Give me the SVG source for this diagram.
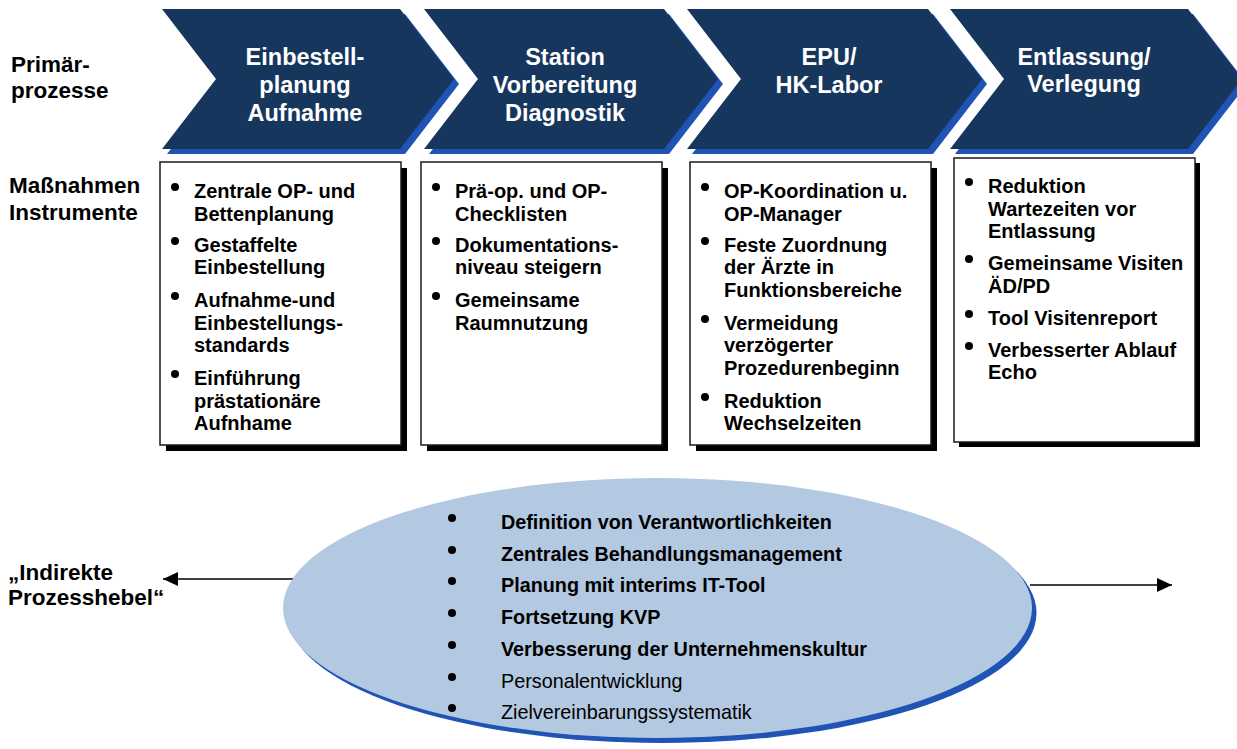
<svg xmlns="http://www.w3.org/2000/svg" width="1237" height="749" viewBox="0 0 1237 749">
<defs>
<style>
text{font-family:"Liberation Sans",Arial,Helvetica,sans-serif;}
.lbl{font-size:22.5px;font-weight:bold;fill:#000;}
.chev{fill:#17365D;}
.chevsh{fill:#1F54B4;}
.ct{font-size:23.5px;font-weight:bold;fill:#fff;text-anchor:middle;}
.box{fill:#fff;stroke:#1a1a1a;stroke-width:1.5;}
.boxsh{fill:#000;}
.bt{font-size:20px;font-weight:bold;fill:#000;}
.et{font-size:19.8px;fill:#000;}
.b{font-weight:bold;}
.conn{stroke:#000;stroke-width:1.6;fill:none;}
</style>
<marker id="ah" markerUnits="userSpaceOnUse" markerWidth="16" markerHeight="15" refX="15" refY="7" orient="auto">
<path d="M0,0 L15,7 L0,14 Z" fill="#000"/>
</marker>
</defs>
<rect x="0" y="0" width="1237" height="749" fill="#fff"/>

<g id="labels">
<text class="lbl" x="11" y="72">Primär-</text>
<text class="lbl" x="11" y="98">prozesse</text>
<text class="lbl" x="9" y="193">Maßnahmen</text>
<text class="lbl" x="9" y="220">Instrumente</text>
<text class="lbl" x="8" y="580">„Indirekte</text>
<text class="lbl" x="8" y="605">Prozesshebel“</text>
</g>

<g id="chevron1">
<path class="chevsh" d="M167,14 L405,14 L459,84 L405,154 L167,154 L221,84 Z"/>
<path class="chev" d="M162,9 L400,9 L454,79 L400,149 L162,149 L216,79 Z"/>
<text class="ct" x="305" y="65">Einbestell-</text>
<text class="ct" x="305" y="93">planung</text>
<text class="ct" x="305" y="121">Aufnahme</text>
</g>
<g id="chevron2">
<path class="chevsh" d="M429,14 L669,14 L723,84 L669,154 L429,154 L483,84 Z"/>
<path class="chev" d="M424,9 L664,9 L718,79 L664,149 L424,149 L478,79 Z"/>
<text class="ct" x="565" y="65">Station</text>
<text class="ct" x="565" y="93">Vorbereitung</text>
<text class="ct" x="565" y="121">Diagnostik</text>
</g>
<g id="chevron3">
<path class="chevsh" d="M692,14 L933,14 L987,84 L933,154 L692,154 L746,84 Z"/>
<path class="chev" d="M687,9 L928,9 L982,79 L928,149 L687,149 L741,79 Z"/>
<text class="ct" x="829" y="65">EPU/</text>
<text class="ct" x="829" y="93">HK-Labor</text>
</g>
<g id="chevron4">
<path class="chevsh" d="M955,14 L1193,14 L1247,84 L1193,154 L955,154 L1009,84 Z"/>
<path class="chev" d="M950,9 L1188,9 L1242,79 L1188,149 L950,149 L1004,79 Z"/>
<text class="ct" x="1084" y="65">Entlassung/</text>
<text class="ct" x="1084" y="92">Verlegung</text>
</g>

<g id="box1">
<rect class="boxsh" x="166" y="168" width="241" height="283"/>
<rect class="box" x="160" y="162" width="241" height="283"/>
<circle cx="175" cy="187" r="4"/><circle cx="175" cy="241" r="4"/><circle cx="175" cy="296" r="4"/><circle cx="175" cy="374" r="4"/>
<text class="bt"><tspan x="194" y="198">Zentrale OP- und</tspan><tspan x="194" y="221">Bettenplanung</tspan><tspan x="194" y="252">Gestaffelte</tspan><tspan x="194" y="274">Einbestellung</tspan><tspan x="194" y="307">Aufnahme-und</tspan><tspan x="194" y="330">Einbestellungs-</tspan><tspan x="194" y="352">standards</tspan><tspan x="194" y="385">Einführung</tspan><tspan x="194" y="408">prästationäre</tspan><tspan x="194" y="430">Aufnhame</tspan></text>
</g>
<g id="box2">
<rect class="boxsh" x="427" y="168" width="241" height="283"/>
<rect class="box" x="421" y="162" width="241" height="283"/>
<circle cx="436" cy="187" r="4"/><circle cx="436" cy="241" r="4"/><circle cx="436" cy="296" r="4"/>
<text class="bt"><tspan x="455" y="198">Prä-op. und OP-</tspan><tspan x="455" y="221">Checklisten</tspan><tspan x="455" y="252">Dokumentations-</tspan><tspan x="455" y="274">niveau steigern</tspan><tspan x="455" y="307">Gemeinsame</tspan><tspan x="455" y="330">Raumnutzung</tspan></text>
</g>
<g id="box3">
<rect class="boxsh" x="696" y="168" width="241" height="283"/>
<rect class="box" x="690" y="162" width="241" height="283"/>
<circle cx="705" cy="187" r="4"/><circle cx="705" cy="241" r="4"/><circle cx="705" cy="319" r="4"/><circle cx="705" cy="397" r="4"/>
<text class="bt"><tspan x="724" y="198">OP-Koordination u.</tspan><tspan x="724" y="221">OP-Manager</tspan><tspan x="724" y="252">Feste Zuordnung</tspan><tspan x="724" y="274">der Ärzte in</tspan><tspan x="724" y="297">Funktionsbereiche</tspan><tspan x="724" y="330">Vermeidung</tspan><tspan x="724" y="352">verzögerter</tspan><tspan x="724" y="375">Prozedurenbeginn</tspan><tspan x="724" y="408">Reduktion</tspan><tspan x="724" y="430">Wechselzeiten</tspan></text>
</g>
<g id="box4">
<rect class="boxsh" x="959" y="163" width="241" height="284"/>
<rect class="box" x="954" y="158" width="241" height="284"/>
<circle cx="969" cy="182" r="4"/><circle cx="969" cy="259" r="4"/><circle cx="969" cy="314" r="4"/><circle cx="969" cy="346" r="4"/>
<text class="bt"><tspan x="988" y="193">Reduktion</tspan><tspan x="988" y="216">Wartezeiten vor</tspan><tspan x="988" y="238">Entlassung</tspan><tspan x="988" y="270">Gemeinsame Visiten</tspan><tspan x="988" y="293">ÄD/PD</tspan><tspan x="988" y="325">Tool Visitenreport</tspan><tspan x="988" y="357">Verbesserter Ablauf</tspan><tspan x="988" y="379">Echo</tspan></text>
</g>

<g id="connectors">
<line class="conn" x1="294" y1="579" x2="163" y2="579" marker-end="url(#ah)"/>
<line class="conn" x1="1030" y1="585" x2="1172" y2="585" marker-end="url(#ah)"/>
</g>

<g id="ellipse">
<ellipse cx="662" cy="613" rx="374.5" ry="130" fill="#1F54B4"/>
<ellipse cx="657.5" cy="608" rx="374.5" ry="130" fill="#B3C8E1"/>
<circle cx="452" cy="518" r="4"/><circle cx="452" cy="550" r="4"/><circle cx="452" cy="581" r="4"/><circle cx="452" cy="613" r="4"/><circle cx="452" cy="645" r="4"/><circle cx="452" cy="677" r="4"/><circle cx="452" cy="708" r="4"/>
<text class="et b" x="501" y="529">Definition von Verantwortlichkeiten</text>
<text class="et b" x="501" y="561">Zentrales Behandlungsmanagement</text>
<text class="et b" x="501" y="592">Planung mit interims IT-Tool</text>
<text class="et b" x="501" y="624">Fortsetzung KVP</text>
<text class="et b" x="501" y="656">Verbesserung der Unternehmenskultur</text>
<text class="et" x="501" y="688">Personalentwicklung</text>
<text class="et" x="501" y="719">Zielvereinbarungssystematik</text>
</g>
</svg>
